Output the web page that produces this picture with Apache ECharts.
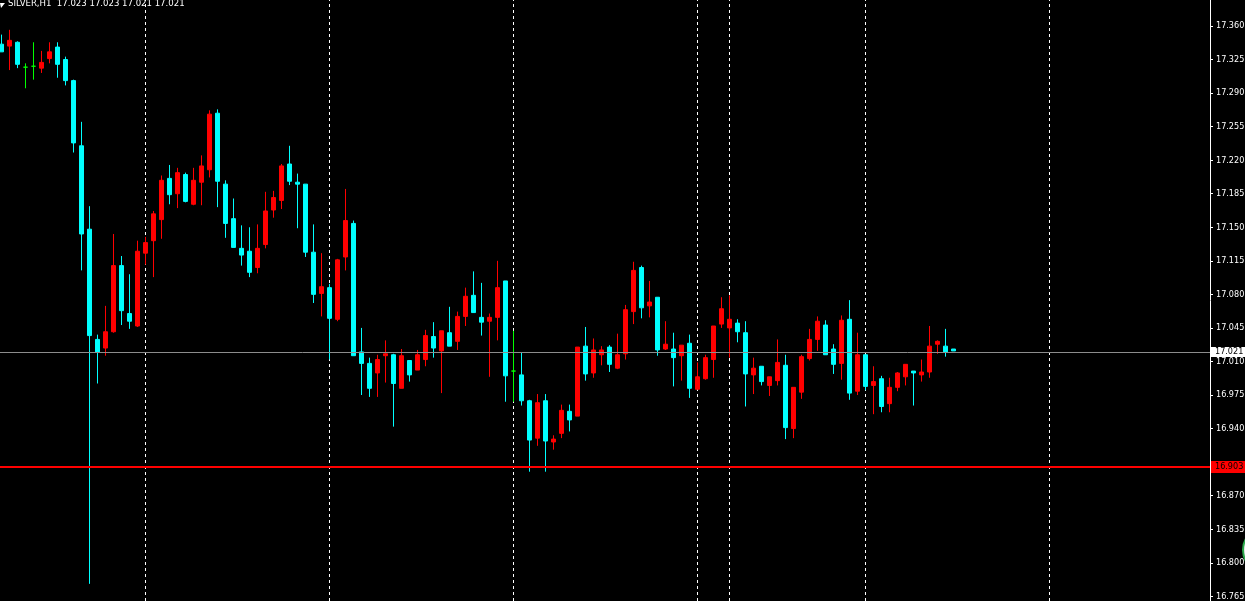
<!DOCTYPE html>
<html><head><meta charset="utf-8">
<script src="https://cdn.jsdelivr.net/npm/echarts@6/dist/echarts.min.js"></script>
<style>html,body{margin:0;padding:0;background:#000;overflow:hidden}#c{width:1245px;height:601px}</style>
</head><body><div id="c"></div>
<script>
const symbolTitle = 'SILVER,H1  17.023 17.023 17.021 17.021';
const opens = [17.341,17.339,17.343,17.317,17.318,17.316,17.326,17.338,17.325,17.303,
17.235,17.148,17.033,17.024,17.041,17.110,17.060,17.047,17.123,17.136,
17.158,17.201,17.185,17.205,17.174,17.197,17.210,17.269,17.195,17.159,
17.128,17.125,17.108,17.132,17.168,17.178,17.216,17.197,17.195,17.124,
17.081,17.087,17.054,17.119,17.154,17.020,17.008,16.998,17.016,17.017,
16.982,17.011,17.001,17.012,17.036,17.021,17.040,17.031,17.057,17.079,
17.056,17.052,17.056,17.094,17.000,16.996,16.969,16.930,16.969,16.926,
16.935,16.958,16.953,17.026,16.998,17.017,17.025,17.003,17.018,17.062,
17.108,17.068,17.077,17.023,17.023,17.016,17.029,16.981,16.992,17.012,
17.049,17.045,17.050,17.040,16.996,17.005,16.985,16.990,17.006,16.940,
16.978,17.013,17.033,17.048,17.023,17.008,17.054,16.979,17.017,16.985,
16.992,16.966,16.983,16.994,17.000,16.996,16.999,17.028,17.026,17.023];
const closes = [17.333,17.345,17.320,17.317,17.318,17.322,17.333,17.320,17.303,17.238,
17.143,17.037,17.020,17.041,17.110,17.063,17.052,17.125,17.134,17.164,
17.199,17.184,17.207,17.177,17.199,17.214,17.268,17.198,17.154,17.129,
17.121,17.103,17.128,17.167,17.181,17.214,17.198,17.195,17.124,17.080,
17.088,17.055,17.116,17.157,17.016,17.008,16.982,17.012,17.018,16.987,
17.016,16.996,17.017,17.037,17.024,17.042,17.026,17.057,17.078,17.061,
17.051,17.056,17.087,16.995,17.000,16.969,16.928,16.967,16.927,16.929,
16.959,16.949,17.025,16.997,17.022,17.022,17.007,17.017,17.064,17.105,
17.066,17.072,17.022,17.028,17.014,17.027,16.982,16.994,17.014,17.047,
17.065,17.054,17.041,16.997,17.003,16.989,16.994,17.009,16.941,16.983,
17.015,17.033,17.052,17.017,17.007,17.053,16.977,17.017,16.984,16.989,
16.963,16.983,16.998,17.007,16.998,16.999,17.026,17.031,17.020,17.021];
const lows = [17.333,17.314,17.316,17.295,17.304,17.311,17.321,17.306,17.298,17.228,
17.105,16.778,16.987,17.016,17.040,17.048,17.044,17.046,17.111,17.098,
17.138,17.174,17.170,17.176,17.173,17.173,17.202,17.171,17.139,17.129,
17.110,17.098,17.102,17.128,17.160,17.169,17.194,17.149,17.119,17.071,
17.057,17.012,17.052,17.105,17.016,16.975,16.973,16.973,16.988,16.942,
16.982,16.989,17.001,17.005,17.014,16.977,17.026,17.022,17.047,17.061,
17.037,16.994,17.032,16.968,16.968,16.964,16.895,16.922,16.895,16.918,
16.930,16.937,16.953,16.990,16.993,17.006,16.999,17.002,17.012,17.049,
17.055,17.056,17.016,17.022,16.984,16.990,16.972,16.981,16.991,16.993,
17.045,17.014,17.030,16.963,16.976,16.985,16.974,16.985,16.929,16.930,
16.971,17.011,17.021,17.017,16.997,16.991,16.970,16.975,16.980,16.955,
16.957,16.957,16.979,16.985,16.964,16.989,16.993,17.018,17.015,17.021];
const highs = [17.351,17.356,17.344,17.321,17.343,17.334,17.343,17.343,17.328,17.304,
17.260,17.172,17.038,17.068,17.143,17.120,17.101,17.136,17.140,17.167,
17.204,17.215,17.212,17.207,17.212,17.225,17.272,17.273,17.199,17.180,
17.152,17.150,17.153,17.187,17.188,17.216,17.235,17.206,17.195,17.153,
17.123,17.091,17.117,17.190,17.157,17.045,17.014,17.017,17.032,17.018,
17.023,17.011,17.022,17.043,17.051,17.042,17.067,17.062,17.087,17.104,
17.092,17.060,17.115,17.094,17.042,17.019,16.970,16.976,16.976,16.933,
16.965,16.965,17.025,17.046,17.034,17.026,17.027,17.039,17.069,17.114,
17.110,17.094,17.077,17.052,17.040,17.027,17.038,17.009,17.017,17.047,
17.077,17.079,17.054,17.052,17.014,17.005,16.994,17.033,17.017,16.983,
17.017,17.044,17.057,17.053,17.028,17.058,17.074,17.040,17.017,17.005,
16.995,16.993,16.999,17.007,17.000,17.012,17.047,17.032,17.044,17.023];
const separatorBars = [18, 41, 64, 87, 91, 108, 131];
const priceTicks = [16.765,16.800,16.835,16.870,16.940,16.975,17.010,17.045,17.080,17.115,17.150,17.185,17.220,17.255,17.290,17.325,17.360];
const bidPrice = 17.021;
const levelPrice = 16.903;

const candles = opens.map((o, i) => [i, o, closes[i], lows[i], highs[i]]);
const FONT = "'DejaVu Sans Condensed', 'Liberation Sans', sans-serif";

const chart = echarts.init(document.getElementById('c'), null, {renderer: 'canvas'});
chart.setOption({
  backgroundColor: '#000000',
  animation: false,
  title: {
    text: symbolTitle, left: 8, top: -1, padding: 0,
    textStyle: {color: '#ffffff', fontSize: 9.5, fontWeight: 'normal', fontFamily: FONT}
  },
  graphic: [
    {type: 'polygon', silent: true, shape: {points: [[0, 3], [5, 3], [1, 8]]}, style: {fill: '#ffffff'}},
    {type: 'circle', silent: true, shape: {cx: 1266, cy: 550, r: 23}, style: {fill: '#e8e8e8', stroke: '#2aa84a', lineWidth: 2}}
  ],
  grid: {left: 0, right: 35, top: 0, bottom: 0, containLabel: false, outerBoundsMode: 'none'},
  xAxis: {
    type: 'value', min: -0.1875, max: -0.1875 + 1210 / 8, show: false,
    axisLine: {show: false}, splitLine: {show: false}
  },
  yAxis: {
    type: 'value', position: 'right', min: 16.7601, max: 17.3871, scale: true,
    axisLine: {show: true, onZero: false, lineStyle: {color: '#ffffff', width: 1}},
    axisTick: {show: true, length: 3, lineStyle: {color: '#ffffff'}, customValues: priceTicks},
    axisLabel: {
      show: true, margin: 6, color: '#ffffff', fontSize: 9, fontFamily: FONT,
      customValues: priceTicks, formatter: v => v.toFixed(3)
    },
    splitLine: {show: false}
  },
  series: [
    {
      type: 'line', data: [], silent: true, z: 1,
      markLine: {
        silent: true, symbol: 'none', z: 1, animation: false,
        label: {show: false},
        lineStyle: {color: '#ffffff', width: 1, type: [3, 3]},
        data: separatorBars.map(b => ({xAxis: b}))
      }
    },
    {
      type: 'candlestick', data: candles, z: 3, barWidth: 4,
      encode: {x: 0, y: [1, 2, 3, 4]},
      itemStyle: {
        color: '#ff0000', color0: '#00ffff',
        borderColor: '#ff0000', borderColor0: '#00ffff',
        borderColorDoji: '#00ff00', borderWidth: 1
      },
      emphasis: {disabled: true},
      markLine: {
        silent: true, symbol: 'none', z: 5, animation: false,
        data: [
          {yAxis: bidPrice, lineStyle: {color: '#8c8c8c', width: 1, type: 'solid'},
           label: {show: true, position: 'end', distance: 1, formatter: () => bidPrice.toFixed(3),
                   color: '#000000', backgroundColor: '#ffffff', padding: [0, 6, 0, 4], lineHeight: 10,
                   fontSize: 9, fontFamily: FONT}},
          {yAxis: levelPrice, lineStyle: {color: '#ff0000', width: 2, type: 'solid'},
           label: {show: true, position: 'end', distance: 1, formatter: () => levelPrice.toFixed(3),
                   color: '#000000', backgroundColor: '#ff0000', padding: [1, 6, 1, 4], lineHeight: 10,
                   fontSize: 9, fontFamily: FONT}}
        ]
      }
    }
  ]
});
</script>
</body></html>
